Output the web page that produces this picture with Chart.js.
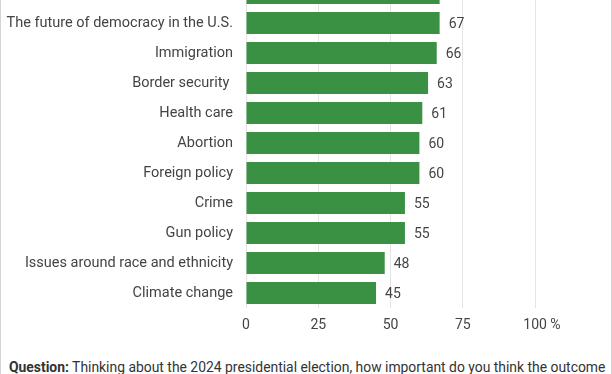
<!DOCTYPE html>
<html>
<head>
<meta charset="utf-8">
<script src="https://cdn.jsdelivr.net/npm/chart.js@4"></script>
<style>
  html, body { margin: 0; padding: 0; background: #fff; }
  #card {
    position: absolute; left: 0; top: 0; width: 610px; height: 374px;
    border-left: 1px solid #d4d4d4; border-right: 1px solid #d4d4d4;
    overflow: hidden; font-family: Roboto, sans-serif;
  }
  #wrap { position: absolute; left: -1px; top: -22px; width: 612px; height: 360px; }
  #question {
    position: absolute; left: 8px; top: 358px; margin: 0; width: 600px;
    font-size: 13.9px; color: #333; line-height: 18px;
  }
</style>
</head>
<body>
<div id="card">
  <div id="wrap"><canvas id="myChart"></canvas></div>
  <p id="question"><b>Question:</b> Thinking about the 2024 presidential election, how important do you think the outcome will be for each of the following issues?</p>
</div>
<script>
const issues = [
    'Taxes and spending',
    'The future of democracy in the U.S.',
    'Immigration',
    'Border security ',
    'Health care',
    'Abortion',
    'Foreign policy',
    'Crime',
    'Gun policy',
    'Issues around race and ethnicity',
    'Climate change'
];
const shares = [67, 67, 66, 63, 61, 60, 60, 55, 55, 48, 45];
const xTicks = [0, 25, 50, 75, 100];

const valueLabels = {
    id: 'valueLabels',
    afterDatasetsDraw(chart) {
        const c = chart.ctx;
        const meta = chart.getDatasetMeta(0);
        c.save();
        c.font = '14px Roboto';
        c.fillStyle = '#444';
        c.textAlign = 'left';
        c.textBaseline = 'middle';
        meta.data.forEach(function (bar, i) {
            c.fillText(shares[i], bar.x + 9, bar.y + 1);
        });
        c.restore();
    }
};

document.addEventListener("DOMContentLoaded", function () {
    const ctx = document.getElementById('myChart');
    new Chart(ctx, {
        type: 'bar',
        data: {
            labels: issues,
            datasets: [{
                data: shares,
                backgroundColor: '#3a9144',
                borderWidth: 0,
                barPercentage: 0.8,
                categoryPercentage: 0.92
            }]
        },
        options: {
            indexAxis: 'y',
            responsive: true,
            maintainAspectRatio: false,
            animation: false,
            layout: { autoPadding: false, padding: { top: 0, right: 77, bottom: 0, left: 0 } },
            plugins: { legend: { display: false }, tooltip: { enabled: false } },
            scales: {
                x: {
                    min: 0,
                    max: 100,
                    afterBuildTicks: function (s) { s.ticks = xTicks.map(v => ({ value: v })); },
                    afterFit: function (s) {
                        s.height = 30;
                        s.paddingLeft = 0;
                        s.paddingRight = 0;
                    },
                    grid: { color: '#e4e4e4', drawTicks: false },
                    border: { display: false },
                    ticks: {
                        padding: 9,
                        color: '#444',
                        font: { family: 'Roboto', size: 14 },
                        callback: v => v === 100 ? '    100 %' : v
                    }
                },
                y: {
                    afterFit: function (s) {
                        s.width = 246;
                        s.paddingTop = 0;
                        s.paddingBottom = 0;
                    },
                    grid: { display: false, drawTicks: false },
                    border: { display: false },
                    ticks: {
                        padding: 13,
                        color: '#444',
                        font: { family: 'Roboto', size: 14.5 }
                    }
                }
            }
        },
        plugins: [valueLabels]
    });
});
</script>
</body>
</html>
